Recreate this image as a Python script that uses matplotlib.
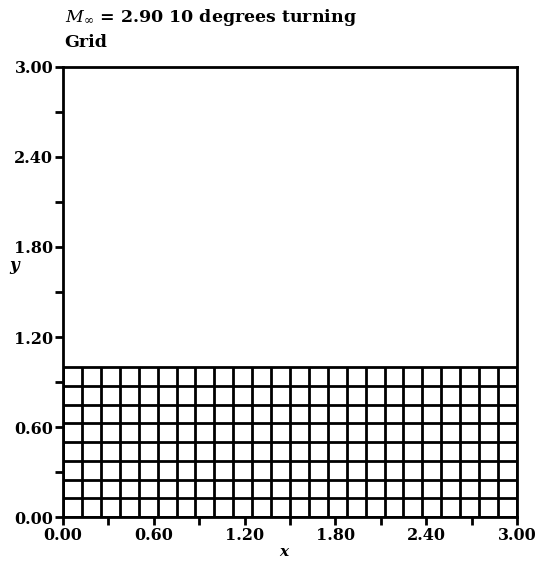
import matplotlib
matplotlib.use("Agg")
import matplotlib.pyplot as plt
from matplotlib.ticker import MultipleLocator

# grid node coordinates (24 x 8 cells, spacing 0.125)
x_nodes = [0.0, 0.125, 0.25, 0.375, 0.5, 0.625, 0.75, 0.875, 1.0, 1.125,
           1.25, 1.375, 1.5, 1.625, 1.75, 1.875, 2.0, 2.125, 2.25, 2.375,
           2.5, 2.625, 2.75, 2.875, 3.0]
y_nodes = [0.0, 0.125, 0.25, 0.375, 0.5, 0.625, 0.75, 0.875, 1.0]

x_ticks = [0.0, 0.6, 1.2, 1.8, 2.4, 3.0]
y_ticks = [0.0, 0.6, 1.2, 1.8, 2.4, 3.0]

plt.rcParams["font.family"] = ["DejaVu Serif"]
plt.rcParams["mathtext.fontset"] = "dejavuserif"

fig = plt.figure(figsize=(5.39, 5.61), dpi=100)
ax = fig.add_axes([0.117, 0.078, 0.842, 0.803])

ax.vlines(x_nodes, y_nodes[0], y_nodes[-1], color="black", lw=2.0)
ax.hlines(y_nodes, x_nodes[0], x_nodes[-1], color="black", lw=2.0)

ax.set_xlim(0, 3)
ax.set_ylim(0, 3)
ax.set_xticks(x_ticks)
ax.set_yticks(y_ticks)
ax.set_xticklabels([f"{v:.2f}" for v in x_ticks])
ax.set_yticklabels([f"{v:.2f}" for v in y_ticks])
ax.xaxis.set_minor_locator(MultipleLocator(0.3))
ax.yaxis.set_minor_locator(MultipleLocator(0.3))
ax.tick_params(which="both", direction="out", width=2, length=6,
               labelsize=11.5, pad=1)
for lab in ax.get_xticklabels() + ax.get_yticklabels():
    lab.set_fontweight("bold")
for sp in ax.spines.values():
    sp.set_linewidth(2)

ax.set_xlabel("x", fontsize=11, style="italic", fontweight="bold",
              va="center", ha="center")
ax.xaxis.set_label_coords(0.487, -0.078)
ax.set_ylabel("y", fontsize=12, style="italic", fontweight="bold",
              rotation=0, va="center", ha="center")
ax.yaxis.set_label_coords(-0.108, 0.558)

fig.text(0.12, 0.968, r"$M_\infty$ = 2.90 10 degrees turning", fontsize=12.5,
         fontweight="bold", va="center", ha="left")
fig.text(0.12, 0.925, "Grid", fontsize=12.5, fontweight="bold",
         va="center", ha="left")

fig.savefig("out.png", dpi=100)
